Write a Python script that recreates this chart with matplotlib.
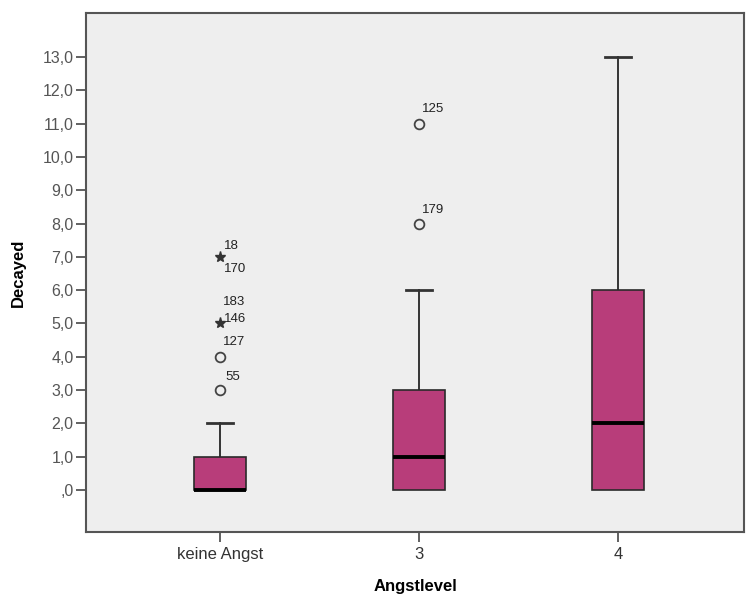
import matplotlib
matplotlib.use("Agg")
import matplotlib.pyplot as plt

categories = ["keine Angst", "3", "4"]
q1 = [0, 0, 0]
medians = [0, 1, 2]
q3 = [1, 3, 6]
whis_lo = [0, 0, 0]
whis_hi = [2, 6, 13]

# outliers: (group index, value, kind, [labels])
out_group = [0, 0, 0, 0, 1, 1]
out_value = [3, 4, 5, 7, 8, 11]
out_kind = ["o", "o", "*", "*", "o", "o"]
out_labels = [["55"], ["127"], ["183", "146"], ["18", "170"], ["179"], ["125"]]
# pixel offsets of each label relative to its point
label_offsets = [[(5, 13)], [(3, 15)], [(3, 21), (4, 4)], [(4, 11), (4, -12)], [(3, 14)], [(3, 15)]]

yticks = list(range(0, 14))
ytick_labels = ["," + "0" if v == 0 else f"{v},0" for v in yticks]

plt.rcParams["font.family"] = ["Liberation Sans", "DejaVu Sans"]

fig = plt.figure(figsize=(7.46, 5.97), dpi=100)
ax = fig.add_axes([86 / 746, 65 / 597, (744 - 86) / 746, (532 - 13) / 597])
ax.set_facecolor("#EEEEEE")

positions = list(range(len(categories)))
stats = []
for i in positions:
    stats.append(dict(med=medians[i], q1=q1[i], q3=q3[i],
                      whislo=whis_lo[i], whishi=whis_hi[i], fliers=[]))

box_w = 0.26
res = ax.bxp(stats, positions=positions, widths=box_w, capwidths=box_w / 2,
             patch_artist=True, showfliers=False,
             boxprops=dict(facecolor="#B83D7A", edgecolor="#2A2A2A", linewidth=1.2),
             medianprops=dict(color="black", linewidth=2.8, solid_capstyle="butt"),
             whiskerprops=dict(color="#333333", linewidth=1.4),
             capprops=dict(color="#333333", linewidth=2.0))
for b in res["boxes"]:
    b.set_zorder(3)
for m in res["medians"]:
    m.set_zorder(4)
# lower caps coincide with the box bottom (all at 0) and are hidden
for c in res["caps"][0::2]:
    c.set_visible(False)

for g, v, k, labs, offs in zip(out_group, out_value, out_kind, out_labels, label_offsets):
    if k == "o":
        ax.plot(g, v, marker="o", markersize=7, markerfacecolor="none",
                markeredgecolor="#444444", markeredgewidth=1.3, zorder=4)
    else:
        ax.plot(g, v, marker="*", markersize=8, color="#333333", zorder=4)
    for lab, (dx, dy) in zip(labs, offs):
        ax.annotate(lab, (g, v), xytext=(dx, dy), textcoords="offset pixels",
                    ha="left", va="center", fontsize=9.5, color="#222222")

ax.set_xlim(-0.673, 2.633)
ax.set_ylim(-1.26, 14.32)
ax.set_xticks(positions)
ax.set_xticklabels(categories, fontsize=12, color="#333333")
ax.set_yticks(yticks)
ax.set_yticklabels(ytick_labels, fontsize=11.5, color="#555555")
ax.tick_params(axis="both", direction="out", length=7, width=1.3, color="#555555")
ax.tick_params(axis="x", pad=4)
ax.tick_params(axis="y", pad=2)
for s in ax.spines.values():
    s.set_color("#555555")
    s.set_linewidth(1.5)

ax.set_xlabel("Angstlevel", fontsize=12, fontweight="bold", labelpad=12)
ax.set_ylabel("Decayed", fontsize=12, fontweight="bold", labelpad=12)

fig.savefig("out.png", dpi=100)
